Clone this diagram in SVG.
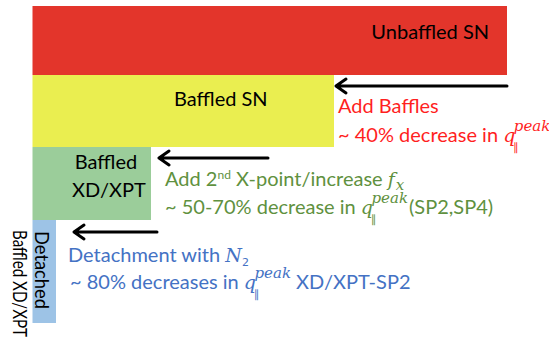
<svg xmlns="http://www.w3.org/2000/svg" width="549" height="340" viewBox="0 0 549 340">
<style>
  .lbl { font-family: Lato, "Open Sans", "Liberation Sans", sans-serif; font-size: 20px; }
  .m { font-family: "DejaVu Serif", "Liberation Serif", serif; font-style: italic; font-size: 19px; }
  .p { font-family: "DejaVu Serif", "Liberation Serif", serif; font-style: italic; font-size: 15px; }
  .s { font-family: "DejaVu Sans", sans-serif; font-size: 11px; font-style: normal; }
  .red { fill: #FF1F1F; }
  .grn { fill: #5F9140; }
  .blu { fill: #4472C4; }
  .blk { fill: #000; }
  .arrow { fill: none; stroke: #000; stroke-width: 3; stroke-linecap: round; stroke-linejoin: round; }
</style>
<rect width="549" height="340" fill="#fff"/>
<g id="unbaffled-sn">
  <rect x="32.5" y="6" width="474.5" height="69" fill="#E3352B"/>
  <text class="lbl blk" x="489" y="39" text-anchor="end">Unbaffled SN</text>
</g>
<g id="baffled-sn">
  <rect x="32.5" y="75" width="301.5" height="72" fill="#EAEE50"/>
  <text class="lbl blk" x="174" y="106">Baffled SN</text>
</g>
<g id="baffled-xd-xpt">
  <rect x="32.5" y="147" width="118.5" height="73" fill="#9BCD9A"/>
  <text class="lbl blk" x="106" y="169" text-anchor="middle">Baffled</text>
  <text class="lbl blk" x="109" y="197" text-anchor="middle">XD/XPT</text>
</g>
<g id="detached">
  <rect x="32.5" y="220" width="23.5" height="103" fill="#9DC3E6"/>
  <text class="lbl blk" transform="translate(35,270) rotate(90)" text-anchor="middle" textLength="78" lengthAdjust="spacingAndGlyphs">Detached</text>
</g>
<g id="outer-label">
  <text class="lbl blk" font-size="18" transform="translate(13,230) rotate(90)" textLength="107" lengthAdjust="spacingAndGlyphs">Baffled XD/XPT</text>
</g>
<g id="connectors">
  <path class="arrow" d="M507,86 H336 M346,79 L336,86 L346,93"/>
  <path class="arrow" d="M268,158 H159 M169,151 L159,158 L169,165"/>
  <path class="arrow" d="M157,232 H74 M84,225 L74,232 L84,239"/>
</g>
<g id="label-baffles">
  <text class="lbl red" x="338" y="113">Add Baffles</text>
  <text class="lbl red" x="338" y="142">~ 40% decrease in <tspan class="m">q</tspan><tspan class="s" dx="-2" dy="9">∥</tspan><tspan class="p" dx="-5" dy="-20">peak</tspan></text>
</g>
<g id="label-xpoint">
  <text class="lbl grn" x="165" y="186">Add 2<tspan font-size="12" dy="-7">nd</tspan><tspan dy="7"> X-point/increase </tspan><tspan class="m">f</tspan><tspan class="p" dx="1" dy="4">x</tspan></text>
  <text class="lbl grn" x="165" y="214">~ 50-70% decrease in <tspan class="m">q</tspan><tspan class="s" dx="-2" dy="9">∥</tspan><tspan class="p" dx="-5" dy="-20">peak</tspan><tspan dx="1" dy="11">(SP2,SP4)</tspan></text>
</g>
<g id="label-detachment">
  <text class="lbl blu" x="68" y="262">Detachment with <tspan class="m">N</tspan><tspan class="s" font-size="13" dy="4">2</tspan></text>
  <text class="lbl blu" x="70" y="289">~ 80% decreases in <tspan class="m">q</tspan><tspan class="s" dx="-2" dy="9">∥</tspan><tspan class="p" dx="-5" dy="-20">peak</tspan><tspan dx="5" dy="11">XD/XPT-SP2</tspan></text>
</g>
</svg>
